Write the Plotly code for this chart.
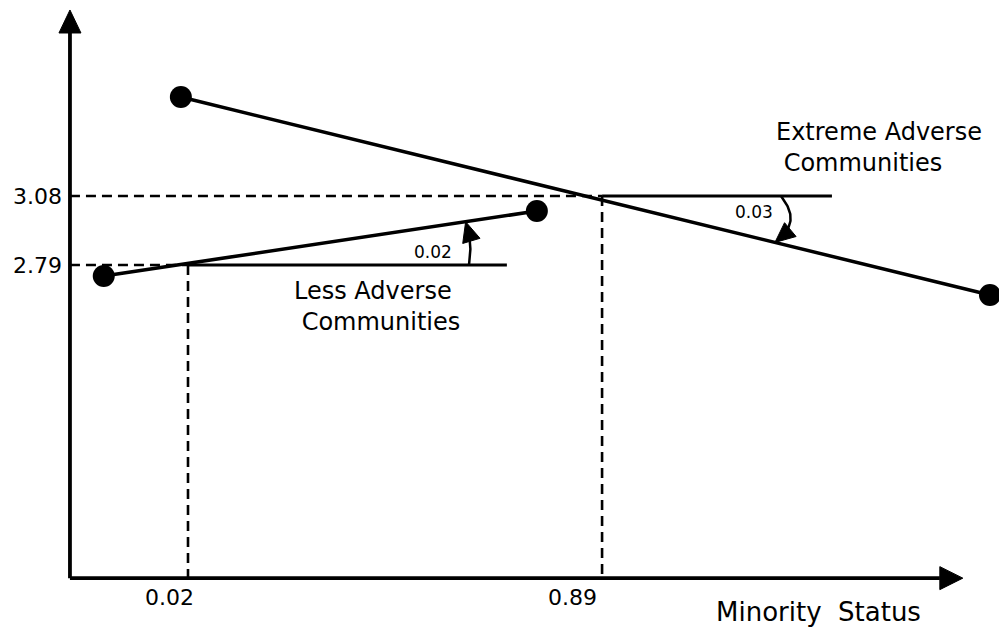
import numpy as np
import plotly.graph_objects as go

# ---------------- data ----------------
extreme_x = [0.005, 1.705]
extreme_y = [3.496, 2.664]
less_x = [-0.157, 0.753]
less_y = [2.744, 3.017]
level_x = [0.02, 0.89]          # x values marked on the x axis
level_y = [2.79, 3.08]          # y values marked on the y axis
level_x_labels = ["0.02", "0.89"]
level_y_labels = ["2.79", "3.08"]
slope_labels = ["0.02", "0.03"]
group_labels = ["Less Adverse<br> Communities", "Extreme Adverse<br> Communities"]
x_title = "Minority\u00a0 Status"

# ---------------- layout constants ----------------
W, H = 999, 635
X_RANGE = [-0.375, 1.724]
Y_RANGE = [1.235, 3.904]
AX_X0, AX_Y0 = -0.228, 1.474      # axis origin
AX_XTIP, AX_YTIP = 1.648, 3.862   # arrow tips
FONT = "DejaVu Sans"
BLACK = "#000000"


def to_px(x, y):
    px = (np.asarray(x) - X_RANGE[0]) / (X_RANGE[1] - X_RANGE[0]) * W
    py = (Y_RANGE[1] - np.asarray(y)) / (Y_RANGE[1] - Y_RANGE[0]) * H
    return px, py


def to_data(px, py):
    x = np.asarray(px) / W * (X_RANGE[1] - X_RANGE[0]) + X_RANGE[0]
    y = Y_RANGE[1] - np.asarray(py) / H * (Y_RANGE[1] - Y_RANGE[0])
    return x, y


fig = go.Figure()


def add_line(xs, ys, width=3.5, dash=None):
    fig.add_trace(go.Scatter(x=list(xs), y=list(ys), mode="lines",
                             line=dict(color=BLACK, width=width, dash=dash),
                             hoverinfo="skip", showlegend=False))


def add_tri(tip_px, d, L, hw):
    d = np.asarray(d, float)
    d = d / np.hypot(*d)
    n = np.array([-d[1], d[0]])
    tip = np.asarray(tip_px, float)
    base = tip - L * d
    pts = [tip, base + hw * n, base - hw * n, tip]
    xs, ys = to_data([p[0] for p in pts], [p[1] for p in pts])
    fig.add_trace(go.Scatter(x=list(xs), y=list(ys), mode="lines", fill="toself",
                             fillcolor=BLACK, line=dict(color=BLACK, width=1),
                             hoverinfo="skip", showlegend=False))


# ---------------- axes with arrows ----------------
ox, oy = to_px(AX_X0, AX_Y0)
tx, _ = to_px(AX_XTIP, AX_Y0)
_, ty = to_px(AX_X0, AX_YTIP)
head = 23
bx, _ = to_data(tx - head, oy)
_, by = to_data(ox, ty + head)
add_line([AX_X0, AX_X0], [AX_Y0, by], width=3.8)
add_line([AX_X0, bx], [AX_Y0, AX_Y0], width=3.8)
add_tri((ox, ty), (0, -1), head, 11)
add_tri((tx, oy), (1, 0), head, 11.5)

# ---------------- dashed reference lines ----------------
DASH = "10px,6px"
for lx, ly in zip(level_x, level_y):
    add_line([AX_X0, lx], [ly, ly], width=2.6, dash=DASH)
    add_line([lx, lx], [ly, AX_Y0], width=2.6, dash=DASH)

# ---------------- solid horizontal bases for the angles ----------------
base_len = [0.67, 0.483]
for lx, ly, bl in zip(level_x, level_y, base_len):
    add_line([lx, lx + bl], [ly, ly], width=3)

# ---------------- the two lines with end points ----------------
for xs, ys in [(extreme_x, extreme_y), (less_x, less_y)]:
    fig.add_trace(go.Scatter(x=xs, y=ys, mode="lines+markers",
                             line=dict(color=BLACK, width=3.5),
                             marker=dict(color=BLACK, size=22),
                             cliponaxis=False,
                             hoverinfo="skip", showlegend=False))


# ---------------- angle arcs ----------------
def line_y_px(xs, ys, px):
    lx, ly = to_px(xs, ys)
    return ly[0] + (px - lx[0]) * (ly[1] - ly[0]) / (lx[1] - lx[0])


def arc(center, R, sign, lxs, lys, bulge, L=20, hw=9):
    cx, cy = to_px(*center)

    def pt(phi):
        return cx + R * np.cos(phi), cy - sign * R * np.sin(phi)

    def f(phi):
        px, py = pt(phi)
        return (py - line_y_px(lxs, lys, px)) * sign

    lo, hi = 0.0, 0.8
    for _ in range(60):
        mid = (lo + hi) / 2
        if f(mid) > 0:
            lo = mid
        else:
            hi = mid
    pe = (lo + hi) / 2
    t = np.linspace(0, 1, 60)
    phis = t * pe
    r = R + bulge * np.sin(np.pi * t)
    px = cx + r * np.cos(phis)
    py = cy - sign * r * np.sin(phis)
    tip = np.array([px[-1], py[-1]])
    d = tip - np.array([px[-6], py[-6]])
    dist = np.hypot(px - tip[0], py - tip[1])
    keep = dist >= L * 0.8
    xs, ys = to_data(px[keep], py[keep])
    add_line(xs, ys, width=2.5)
    add_tri(tip, d, L, hw)


arc((level_x[0], level_y[0]), 281, +1, less_x, less_y, bulge=2)
arc((level_x[1], level_y[1]), 179, -1, extreme_x, extreme_y, bulge=11)

# ---------------- text ----------------
ann = []
for ly, lab in zip(level_y, level_y_labels):
    ann.append(dict(x=AX_X0, y=ly, xref="x", yref="y", text=lab, showarrow=False,
                    xanchor="right", yanchor="middle", xshift=-6,
                    font=dict(family=FONT, size=22, color=BLACK)))
for lx, lab, sh in zip(level_x, level_x_labels, [8, -3]):
    ann.append(dict(x=lx, y=AX_Y0, xref="x", yref="y", text=lab, showarrow=False,
                    xanchor="right", yanchor="top", xshift=sh, yshift=-5,
                    font=dict(family=FONT, size=22, color=BLACK)))


def paper(px, py):
    return px / W, 1 - py / H


for (px, py), lab in zip([(433, 252), (754, 212)], slope_labels):
    x, y = paper(px, py)
    ann.append(dict(x=x, y=y, xref="paper", yref="paper", text=lab, showarrow=False,
                    xanchor="center", yanchor="middle",
                    font=dict(family=FONT, size=17, color=BLACK)))
for (px, py), lab in zip([(377, 306), (879, 147)], group_labels):
    x, y = paper(px, py)
    ann.append(dict(x=x, y=y, xref="paper", yref="paper", text=lab, showarrow=False,
                    xanchor="center", yanchor="middle", align="left",
                    font=dict(family=FONT, size=24, color=BLACK)))
x, y = paper(818, 612)
ann.append(dict(x=x, y=y, xref="paper", yref="paper", text=x_title, showarrow=False,
                xanchor="center", yanchor="middle",
                font=dict(family=FONT, size=26, color=BLACK)))

fig.update_layout(
    width=W, height=H, autosize=False,
    margin=dict(l=0, r=0, t=0, b=0),
    paper_bgcolor="white", plot_bgcolor="white",
    xaxis=dict(range=X_RANGE, visible=False, fixedrange=True),
    yaxis=dict(range=Y_RANGE, visible=False, fixedrange=True),
    annotations=ann,
    showlegend=False,
)

fig.write_html("out.html",
               config={"displayModeBar": False, "staticPlot": True},
               post_script="document.body.style.margin='0';"
                           "document.body.style.overflow='hidden';")
